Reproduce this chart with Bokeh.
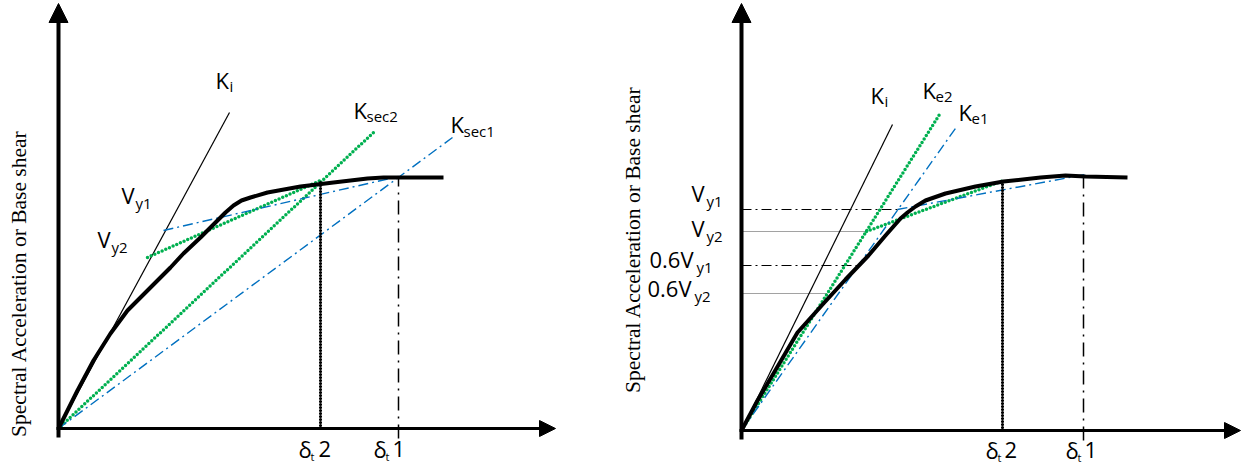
from bokeh.plotting import figure
from bokeh.models import Range1d, Label, Arrow, NormalHead
from bokeh.layouts import row
from bokeh.embed import file_html
from bokeh.resources import INLINE
import math

# ---------------- data (schematic units: displacement, base shear) ----------------
# Left panel: secant stiffness method
L_curve_x = [0, 19, 35, 52, 69, 92, 112, 125, 142, 159, 167, 175, 183, 192, 209, 242, 275, 309, 325, 342, 385]
L_curve_y = [0, 38, 68, 95, 118, 141, 161, 175, 191, 208, 216, 223, 228, 231, 236, 242, 246, 250, 251, 251, 251]
L_ki_x = [0, 171]
L_ki_y = [0, 316]
L_ksec2_x = [0, 315]
L_ksec2_y = [0, 296]
L_bil2_x = [89, 262]
L_bil2_y = [171, 248]
L_ksec1_x = [0, 394]
L_ksec1_y = [0, 291]
L_bil1_x = [105, 340]
L_bil1_y = [198, 252]
L_dt2 = [262, 248]   # target displacement 2 (x, y on curve)
L_dt1 = [340, 252]   # target displacement 1

# Right panel: effective stiffness method
R_curve_x = [0, 16, 32, 56, 82, 104, 127, 144, 159, 166, 174, 184, 204, 234, 262, 299, 324, 344, 386]
R_curve_y = [0, 30, 57, 98, 127, 151, 175, 195, 212, 218, 224, 230, 237, 244, 249, 253, 255, 254, 253]
R_ki_x = [0, 151]
R_ki_y = [0, 306]
R_ke2_x = [0, 198]
R_ke2_y = [0, 316]
R_ke1_x = [0, 216]
R_ke1_y = [0, 305]
R_bil2_x = [125, 262]
R_bil2_y = [199, 250]
R_bil1_x = [156, 344]
R_bil1_y = [221, 256]
R_levels = ["Vy1", "Vy2", "0.6Vy1", "0.6Vy2"]
R_level_y = [221, 199, 165, 137]
R_level_xend = [156, 125, 117, 86]
R_dt2 = [261, 249]
R_dt1 = [342, 254]

GREEN = "#00B050"
BLUE = "#0070C0"
SANS = "Open Sans"
SERIF = "Liberation Serif"
MAIN = 22
SUB = 15


def make_fig(w, xr, yr):
    p = figure(width=w, height=465, x_range=Range1d(*xr), y_range=Range1d(*yr),
               output_backend="svg", toolbar_location=None,
               x_axis_location=None, y_axis_location=None, min_border=0)
    p.grid.visible = False
    p.outline_line_color = None
    p.background_fill_color = "white"
    p.border_fill_color = "white"
    return p


def axes(p, xmax, ymax):
    p.add_layout(Arrow(x_start=0, y_start=-9, x_end=0, y_end=ymax, line_width=4,
                       end=NormalHead(size=19, fill_color="black", line_color="black", line_width=1)))
    p.add_layout(Arrow(x_start=-2, y_start=0, x_end=xmax, y_end=0, line_width=3,
                       end=NormalHead(size=16, fill_color="black", line_color="black", line_width=1)))


def txt(p, x, y, s, size=MAIN, font=SANS):
    # y is the intended baseline; small correction for how the baseline is placed
    p.add_layout(Label(x=x, y=y + 0.42 * size, text=s, text_font=font,
                       text_font_size=f"{size}px", text_baseline="alphabetic",
                       text_align="left", text_color="black"))


def lab(p, x, y, main, sub, dx, subsize=SUB, dy=4):
    txt(p, x, y, main, MAIN)
    txt(p, x + dx, y - dy, sub, subsize)


def ylabel(p, x, y):
    p.add_layout(Label(x=x, y=y, text="Spectral Acceleration or Base shear", angle=math.pi / 2,
                       text_font=SERIF, text_font_size="21.5px", text_align="center",
                       text_baseline="middle", text_color="black"))


def green_dots(p, xs, ys):
    p.line(xs, ys, line_color=GREEN, line_width=3.5, line_dash="0 4", line_cap="round")


def blue_dashdot(p, xs, ys):
    p.line(xs, ys, line_color=BLUE, line_width=1.4, line_dash="10 4 2 4")


def heavy_dots(p, xs, ys):
    p.line(xs, ys, line_color="black", line_width=3.2, line_dash="0 3", line_cap="round")


# ---------------- left panel ----------------
pl = make_fig(620, (-58, 562), (-37, 428))
axes(pl, 497, 425)
pl.line(L_ki_x, L_ki_y, line_color="black", line_width=1.2)
green_dots(pl, L_ksec2_x, L_ksec2_y)
green_dots(pl, L_bil2_x, L_bil2_y)
blue_dashdot(pl, L_ksec1_x, L_ksec1_y)
blue_dashdot(pl, L_bil1_x, L_bil1_y)
heavy_dots(pl, [L_dt2[0], L_dt2[0]], [0, L_dt2[1]])
pl.line([L_dt1[0], L_dt1[0]], [-10, L_dt1[1]], line_color="black", line_width=1.5,
        line_dash="14 6 2 6")
pl.line(L_curve_x, L_curve_y, line_color="black", line_width=4, line_join="round")

lab(pl, 157, 339, "K", "i", 14, dy=3)
lab(pl, 63, 224, "V", "y1", 14, dy=5)
lab(pl, 39, 180, "V", "y2", 14, dy=5)
lab(pl, 295, 309, "K", "sec2", 13, dy=3)
lab(pl, 392, 295, "K", "sec1", 13, dy=4)
lab(pl, 240, -30, "δ", "t", 12, subsize=11, dy=3)
txt(pl, 260, -30, "2")
lab(pl, 315, -30, "δ", "t", 12, subsize=11, dy=3)
txt(pl, 334, -30, "1")
ylabel(pl, -40, 145)

# ---------------- right panel ----------------
pr = make_fig(625, (-121, 504), (-35, 430))
axes(pr, 499, 427)
for yv, xe, nm in zip(R_level_y, R_level_xend, R_levels):
    if nm.endswith("1"):
        pr.line([0, xe], [yv, yv], line_color="black", line_width=1.1, line_dash="10 4 2 4")
    else:
        pr.line([0, xe], [yv, yv], line_color="#444444", line_width=1, line_dash="1 1")
pr.line(R_ki_x, R_ki_y, line_color="black", line_width=1.2)
green_dots(pr, R_ke2_x, R_ke2_y)
green_dots(pr, R_bil2_x, R_bil2_y)
blue_dashdot(pr, R_ke1_x, R_ke1_y)
blue_dashdot(pr, R_bil1_x, R_bil1_y)
heavy_dots(pr, [R_dt2[0], R_dt2[0]], [0, R_dt2[1]])
pr.line([R_dt1[0], R_dt1[0]], [-10, R_dt1[1]], line_color="black", line_width=1.5,
        line_dash="14 6 2 6")
pr.line(R_curve_x, R_curve_y, line_color="black", line_width=4, line_join="round")

lab(pr, -50, 228, "V", "y1", 15, dy=5)
lab(pr, -50, 193, "V", "y2", 15, dy=5)
lab(pr, -92, 162, "0.6V", "y1", 47, dy=5)
lab(pr, -94, 133, "0.6V", "y2", 47, dy=5)
lab(pr, 129, 326, "K", "i", 14, dy=3)
lab(pr, 181, 331, "K", "e2", 13, dy=4)
lab(pr, 217, 309, "K", "e1", 13, dy=4)
lab(pr, 244, -29, "δ", "t", 12, subsize=11, dy=3)
txt(pr, 263, -29, "2")
lab(pr, 324, -29, "δ", "t", 12, subsize=11, dy=3)
txt(pr, 343, -29, "1")
ylabel(pr, -109, 191)

layout = row(pl, pr)
open("out.html", "w").write(file_html(layout, INLINE))
